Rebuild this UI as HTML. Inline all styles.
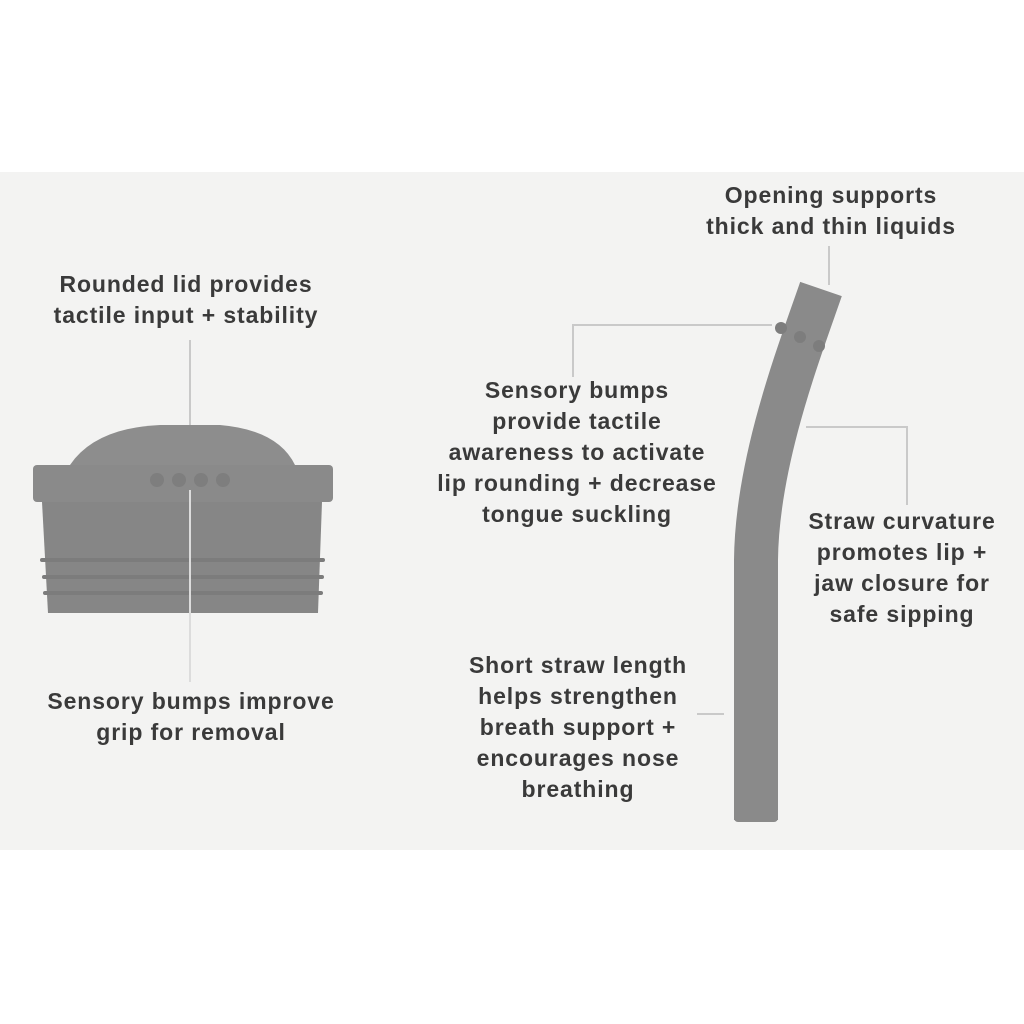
<!DOCTYPE html>
<html><head><meta charset="utf-8"><style>
body{margin:0;width:1024px;height:1024px;background:#fff;position:relative;overflow:hidden;font-family:"Liberation Sans",sans-serif}
.band{position:absolute;left:0;top:172px;width:1024px;height:678px;background:#f3f3f2}
.t{position:absolute;font-size:23px;letter-spacing:0.9px;font-weight:bold;color:#3a3a3a;text-align:center;line-height:31px;white-space:nowrap;transform:translateX(-50%)}
svg{position:absolute;left:0;top:0}
</style></head><body>
<div class="band"></div>
<svg width="1024" height="1024">
<g stroke="#c9c9c9" stroke-width="2" fill="none">
<line x1="190" y1="340" x2="190" y2="425"/>
<line x1="829" y1="246" x2="829" y2="285"/>
<polyline points="573,377 573,325 772,325"/>
<polyline points="806,427 907,427 907,505"/>
<line x1="697" y1="714" x2="724" y2="714"/>
</g>
<!-- lid -->
<path d="M70,465 Q95,428 160,425 L220,425 Q278,430 295,465 Z" fill="#8d8d8d"/>
<rect x="33" y="465" width="300" height="37" rx="4" fill="#8a8a8a"/>
<path d="M42,502 L322,502 L318,613 L48,613 Z" fill="#868686"/>
<g fill="#7c7c7c">
<rect x="40" y="558" width="285" height="4" rx="2"/>
<rect x="42" y="575" width="282" height="4" rx="2"/>
<rect x="43" y="591" width="280" height="4" rx="2"/>
</g>
<g fill="#7e7e7e"><circle cx="157" cy="480" r="7"/><circle cx="179" cy="480" r="7"/><circle cx="201" cy="480" r="7"/><circle cx="223" cy="480" r="7"/></g>
<line x1="190" y1="490" x2="190" y2="682" stroke="#dcdcdc" stroke-width="2"/>
<!-- straw -->
<path d="M821,289 C800,350 757,460 756,560 L756,820" stroke="#8a8a8a" stroke-width="44" fill="none"/>
<rect x="734" y="800" width="44" height="22" rx="4" fill="#8a8a8a"/>
<g fill="#7d7d7d"><circle cx="781" cy="328" r="6"/><circle cx="800" cy="337" r="6"/><circle cx="819" cy="346" r="6"/></g>
</svg>
<div class="t" style="left:186px;top:269px">Rounded lid provides<br>tactile input + stability</div>
<div class="t" style="left:191px;top:686px">Sensory bumps improve<br>grip for removal</div>
<div class="t" style="left:831px;top:180px">Opening supports<br>thick and thin liquids</div>
<div class="t" style="left:577px;top:375px">Sensory bumps<br>provide tactile<br>awareness to activate<br>lip rounding + decrease<br>tongue suckling</div>
<div class="t" style="left:902px;top:506px">Straw curvature<br>promotes lip +<br>jaw closure for<br>safe sipping</div>
<div class="t" style="left:578px;top:650px">Short straw length<br>helps strengthen<br>breath support +<br>encourages nose<br>breathing</div>
</body></html>
